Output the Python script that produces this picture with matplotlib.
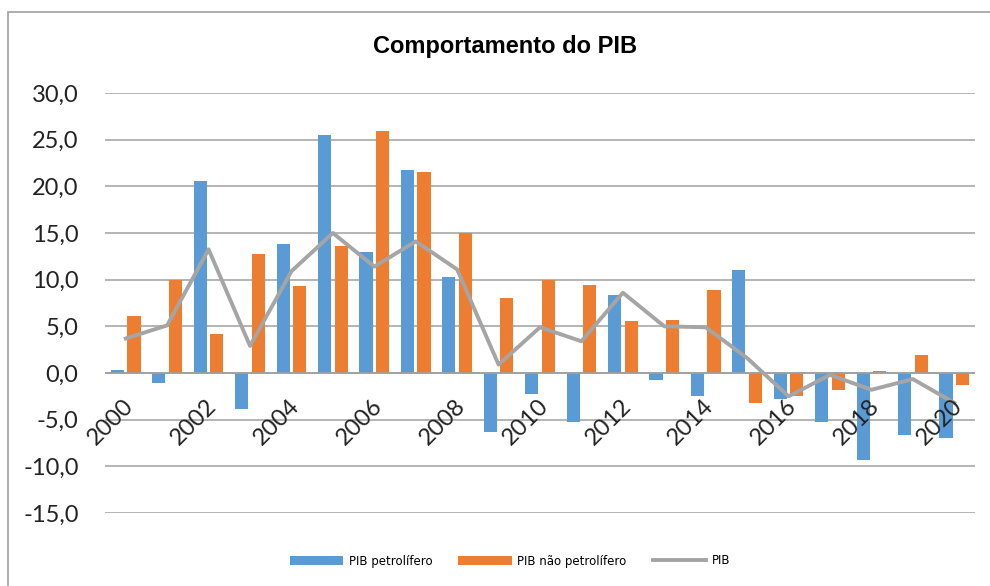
import matplotlib.pyplot as plt
import numpy as np

# dados
anos = [2000, 2001, 2002, 2003, 2004, 2005, 2006, 2007, 2008, 2009, 2010,
        2011, 2012, 2013, 2014, 2015, 2016, 2017, 2018, 2019, 2020]
pib_petrolifero = [0.3, -1.1, 20.6, -3.9, 13.8, 25.5, 13.0, 21.8, 10.3, -6.3, -2.3,
                   -5.2, 8.4, -0.8, -2.5, 11.0, -2.8, -5.3, -9.3, -6.6, -7.0]
pib_nao_petrolifero = [6.1, 10.0, 4.2, 12.75, 9.3, 13.6, 25.9, 21.5, 15.0, 8.0, 10.0,
                       9.4, 5.6, 5.7, 8.9, -3.2, -2.5, -1.8, 0.2, 1.9, -1.25]
pib = [3.7, 5.1, 13.25, 2.9, 10.9, 15.0, 11.4, 14.1, 11.1, 0.9, 4.9,
       3.4, 8.6, 5.0, 4.9, 1.6, -2.5, -0.2, -1.8, -0.65, -3.2]
yticks = [-15, -10, -5, 0, 5, 10, 15, 20, 25, 30]

azul = '#5B9BD5'
laranja = '#ED7D31'
cinza = '#A5A5A5'
grade = '#A0A0A0'

fig = plt.figure(figsize=(9.9, 5.86), dpi=100)
ax = fig.add_axes([105 / 990, 1 - 513 / 586, 870 / 990, 420 / 586])

x = np.arange(len(anos))
b1 = ax.bar(x - 0.2, pib_petrolifero, width=0.32, color=azul, zorder=2)
b2 = ax.bar(x + 0.2, pib_nao_petrolifero, width=0.32, color=laranja, zorder=2)
ax.axhline(0, color=grade, lw=1.2, zorder=3)
l1, = ax.plot(x, pib, color=cinza, lw=2.8, zorder=4)

ax.set_xlim(-0.5, len(anos) - 0.5)
ax.set_ylim(-15, 30)
ax.set_yticks(yticks)
ax.set_yticklabels([f'{v:.1f}'.replace('.', ',') for v in yticks],
                   fontsize=17, family='Lato', color='#222222')
ax.tick_params(axis='y', length=0, pad=19)
ax.set_xticks([])
ax.grid(axis='y', color=grade, lw=1.1, zorder=0)
ax.set_axisbelow(True)
for s in ax.spines.values():
    s.set_visible(False)

# rotulos dos anos junto do eixo zero
for i, a in enumerate(anos):
    if a % 2 == 0:
        ax.annotate(str(a), xy=(i, 0), xytext=(-2, -16), textcoords='offset points',
                    rotation=45, rotation_mode='anchor', ha='right', va='top',
                    fontsize=17, family='Lato', color='#222222', zorder=5)

fig.text(505 / 990, 1 - 47 / 586, 'Comportamento do PIB', ha='center', va='center',
         fontsize=17, fontweight='bold', family='Liberation Sans')

fig.legend([b1, b2, l1], ['PIB petrolífero', 'PIB não petrolífero', 'PIB'],
           loc='center', bbox_to_anchor=(510 / 990, 1 - 561 / 586), ncol=3, frameon=False,
           fontsize=8.5, handlelength=4.5, handletextpad=0.5, columnspacing=2.2)

# moldura do grafico (so esquerda e topo visiveis)
fig.add_artist(plt.Rectangle((8 / 990, -0.1), 1.2, 1.1 - 12 / 586, transform=fig.transFigure,
                             fill=False, edgecolor=grade, lw=1.2))

fig.savefig('out.png', dpi=100)
